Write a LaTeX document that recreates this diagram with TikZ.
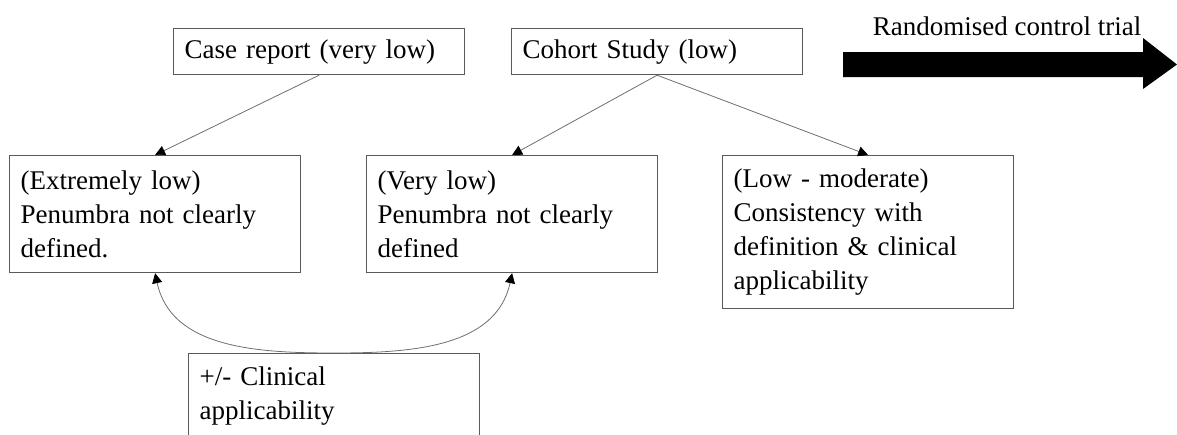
\documentclass[tikz,border=0pt]{standalone}
\usepackage{fontspec}
\setmainfont{Liberation Serif}
\usetikzlibrary{arrows.meta,positioning}
\tikzset{
  evbox/.style = {draw=ev_edge, line width=1.2pt, align=left, anchor=north west,
  text width=269pt, inner xsep=11pt, inner ysep=0pt, font=\fontsize{27}{34}\selectfont},
  ev_top/.style = {evbox, minimum height=46pt},
  ev_mid/.style = {evbox, minimum height=117pt},
  ev_tall/.style = {evbox, minimum height=153pt}
}
\definecolor{ev_edge}{RGB}{90, 90, 90}
\definecolor{link_grey}{RGB}{110, 110, 110}

\begin{document}
\begin{tikzpicture}[x=1pt, y=1pt, >={Triangle[length=10pt,width=10pt,color=black]},
        link/.style={->, draw=link_grey, line width=0.8pt},
        big_arrow/.style={fill=black, draw=none}]
    \useasboundingbox (0,0) rectangle (1177,-434);
    \node [ev_top] (case) at (173,-28) {Case report (very low)};
    \node [ev_top] (cohort) at (511,-28) {Cohort Study (low)};
    \node [ev_mid] (xlow) at (9,-155) {(Extremely low)\\Penumbra not clearly\\defined.};
    \node [ev_mid] (vlow) at (366,-155) {(Very low)\\Penumbra not clearly\\defined};
    \node [ev_tall] (lowmod) at (722,-155) {(Low - moderate)\\Consistency with\\definition \& clinical\\applicability};
    \node [evbox, minimum height=84pt] (clin) at (188,-353) {+/- Clinical\\applicability};
    \node [font=\fontsize{27}{34}\selectfont, anchor=base, inner sep=0pt] (rct) at (1007,-35) {Randomised control trial};
    \path [big_arrow] (843,-52) -- (1143,-52) -- (1143,-38) -- (1177,-64.5)
        -- (1143,-89) -- (1143,-77) -- (843,-77) -- cycle;
    \draw [link] (case.south) -- (xlow.north);
    \draw [link] (cohort.south) -- (vlow.north);
    \draw [link] (cohort.south) -- (lowmod.north);
    \draw [link] (clin.north) to[out=180, in=-78] (xlow.south);
    \draw [link] (clin.north) to[out=0, in=-102] (vlow.south);
\end{tikzpicture}
\end{document}
